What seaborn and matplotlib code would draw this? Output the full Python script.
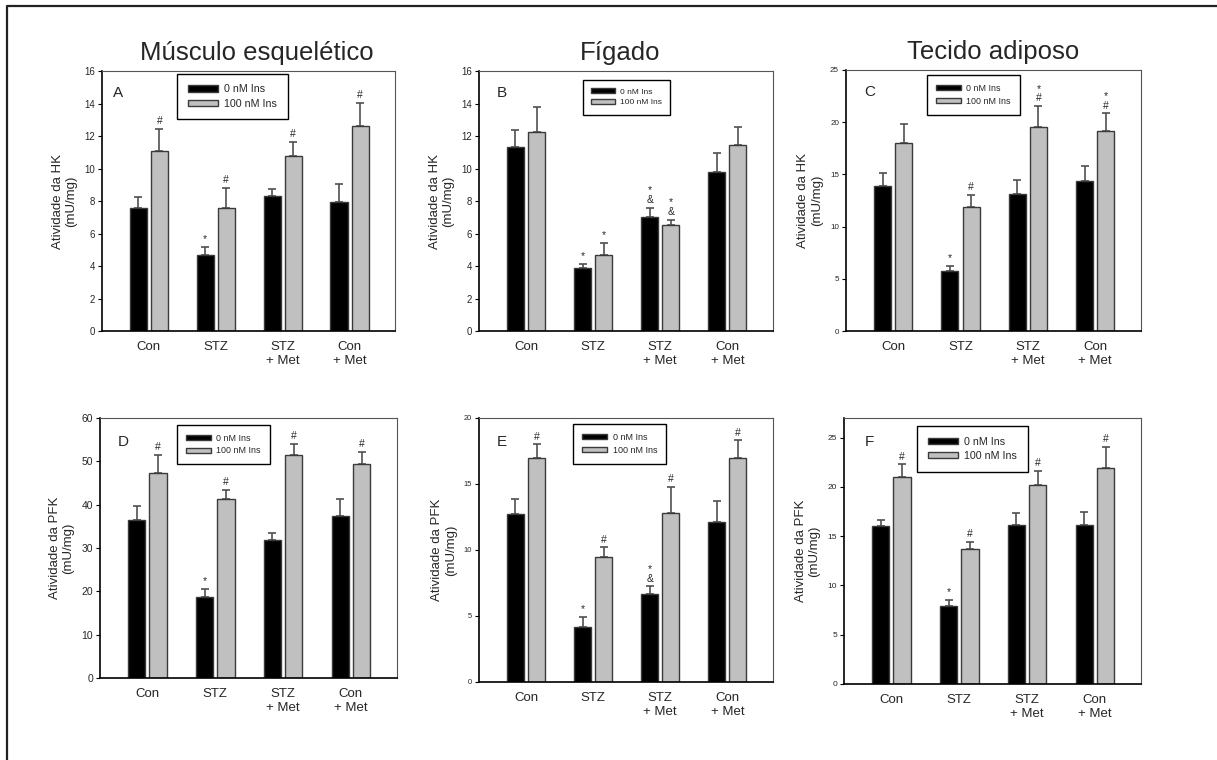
import matplotlib
matplotlib.use("Agg")
import matplotlib.pyplot as plt
from matplotlib.lines import Line2D
import pandas as pd
import seaborn as sns

sns.set_style("ticks")
plt.rcParams['font.family'] = ['Liberation Sans', 'DejaVu Sans']

groups = ['Con', 'STZ', 'STZ\n+ Met', 'Con\n+ Met']
ins_levels = ['0 nM Ins', '100 nM Ins']
titles = ['Músculo esquelético', 'Fígado', 'Tecido adiposo']

# HK activity (mean, SEM) - order Con, STZ, STZ+Met, Con+Met
hk_musc_0 = [7.6, 4.7, 8.3, 7.95]
hk_musc_0_sem = [0.65, 0.5, 0.45, 1.1]
hk_musc_100 = [11.05, 7.6, 10.8, 12.6]
hk_musc_100_sem = [1.4, 1.2, 0.85, 1.45]

hk_liver_0 = [11.3, 3.9, 7.0, 9.8]
hk_liver_0_sem = [1.1, 0.25, 0.6, 1.15]
hk_liver_100 = [12.25, 4.65, 6.55, 11.45]
hk_liver_100_sem = [1.55, 0.75, 0.3, 1.1]

hk_adip_0 = [13.9, 5.7, 13.1, 14.4]
hk_adip_0_sem = [1.2, 0.55, 1.4, 1.4]
hk_adip_100 = [18.0, 11.85, 19.55, 19.15]
hk_adip_100_sem = [1.8, 1.2, 2.0, 1.7]

# PFK activity
pfk_musc_0 = [36.4, 18.8, 31.8, 37.5]
pfk_musc_0_sem = [3.3, 1.8, 1.7, 3.8]
pfk_musc_100 = [47.2, 41.3, 51.5, 49.3]
pfk_musc_100_sem = [4.3, 2.1, 2.6, 2.8]

pfk_liver_0 = [12.7, 4.2, 6.7, 12.1]
pfk_liver_0_sem = [1.2, 0.7, 0.55, 1.65]
pfk_liver_100 = [17.0, 9.5, 12.8, 17.0]
pfk_liver_100_sem = [1.0, 0.7, 2.0, 1.3]

pfk_adip_0 = [16.0, 7.9, 16.1, 16.15]
pfk_adip_0_sem = [0.65, 0.6, 1.3, 1.3]
pfk_adip_100 = [21.05, 13.7, 20.2, 21.9]
pfk_adip_100_sem = [1.25, 0.75, 1.4, 2.2]

# significance marks above each bar
marks_a = [['', '#'], ['*', '#'], ['', '#'], ['', '#']]
marks_b = [['', ''], ['*', '*'], ['*\n&', '*\n&'], ['', '']]
marks_c = [['', ''], ['*', '#'], ['', '*\n#'], ['', '*\n#']]
marks_d = [['', '#'], ['*', '#'], ['', '#'], ['', '#']]
marks_e = [['', '#'], ['*', '#'], ['*\n&', '#'], ['', '#']]
marks_f = [['', '#'], ['*', '#'], ['', '#'], ['', '#']]

W, H = 1217, 760
fig = plt.figure(figsize=(W / 100, H / 100), dpi=100)


def px_rect(x0, y0, x1, y1):
    return [x0 / W, 1 - y1 / H, (x1 - x0) / W, (y1 - y0) / H]


panels = [
    dict(rect=(102, 71, 395, 331), m0=hk_musc_0, s0=hk_musc_0_sem, m1=hk_musc_100, s1=hk_musc_100_sem,
         marks=marks_a, letter='A', ylim=16, ytop=16, step=2, ylab='HK', tfs=6.9, lfs=7.7, leg=(0.256, 0.99),
         let=(0.055, 0.915), title=titles[0], tx=0.527),
    dict(rect=(479, 71, 773, 331), m0=hk_liver_0, s0=hk_liver_0_sem, m1=hk_liver_100, s1=hk_liver_100_sem,
         marks=marks_b, letter='B', ylim=16, ytop=16, step=2, ylab='HK', tfs=6.9, lfs=6.0, leg=(0.354, 0.965),
         let=(0.077, 0.915), title=titles[1], tx=0.48),
    dict(rect=(846, 70, 1141, 331), m0=hk_adip_0, s0=hk_adip_0_sem, m1=hk_adip_100, s1=hk_adip_100_sem,
         marks=marks_c, letter='C', ylim=25, ytop=25, step=5, ylab='HK', tfs=5.8, lfs=6.4, leg=(0.275, 0.98),
         let=(0.081, 0.915), title=titles[2], tx=0.5),
    dict(rect=(100, 418, 397, 678), m0=pfk_musc_0, s0=pfk_musc_0_sem, m1=pfk_musc_100, s1=pfk_musc_100_sem,
         marks=marks_d, letter='D', ylim=60, ytop=60, step=10, ylab='PFK', tfs=7.5, lfs=6.4, leg=(0.26, 0.973),
         let=(0.077, 0.909), title=None, tx=0.5),
    dict(rect=(479, 418, 773, 682), m0=pfk_liver_0, s0=pfk_liver_0_sem, m1=pfk_liver_100, s1=pfk_liver_100_sem,
         marks=marks_e, letter='E', ylim=20, ytop=20, step=5, ylab='PFK', tfs=5.4, lfs=6.5, leg=(0.32, 0.977),
         let=(0.077, 0.91), title=None, tx=0.5),
    dict(rect=(844, 418, 1141, 684), m0=pfk_adip_0, s0=pfk_adip_0_sem, m1=pfk_adip_100, s1=pfk_adip_100_sem,
         marks=marks_f, letter='F', ylim=27, ytop=25, step=5, ylab='PFK', tfs=6.0, lfs=7.7, leg=(0.246, 0.97),
         let=(0.087, 0.91), title=None, tx=0.5),
]

for p in panels:
    ax = fig.add_axes(px_rect(*p['rect']))
    df = pd.DataFrame({
        'grupo': groups * 2,
        'ins': [ins_levels[0]] * 4 + [ins_levels[1]] * 4,
        'valor': p['m0'] + p['m1'],
    })
    sems = [p['s0'], p['s1']]
    sns.barplot(data=df, x='grupo', y='valor', hue='ins', order=groups, hue_order=ins_levels,
                palette=['black', '#c0c0c0'], saturation=1, width=0.63, gap=0.19,
                edgecolor='#3a3a3a', linewidth=1, errorbar=None, ax=ax)
    bar_conts = list(ax.containers)
    for k, cont in enumerate(bar_conts):
        for j, bar in enumerate(cont.patches):
            xc = bar.get_x() + bar.get_width() / 2
            h = bar.get_height()
            ax.errorbar(xc, h, yerr=[[0], [sems[k][j]]], color='#505050', lw=1.2,
                        capsize=3.2, capthick=1.2, zorder=0.5)
            txt = p['marks'][j][k]
            if txt:
                ax.annotate(txt, (xc, h + sems[k][j]), xytext=(0, 2), textcoords='offset points',
                            ha='center', va='bottom', fontsize=7.5, linespacing=0.95)
    ax.set_xlim(-0.70, 3.68)
    ax.set_ylim(0, p['ylim'])
    ax.set_yticks(range(0, p['ytop'] + 1, p['step']))
    ax.tick_params(axis='y', labelsize=p['tfs'], length=3, width=0.8, pad=2, color='black')
    ax.tick_params(axis='x', labelsize=9.5, length=0, pad=7.5)
    ax.set_xlabel('')
    ax.set_ylabel('Atividade da ' + p['ylab'] + '\n(mU/mg)', fontsize=9.5, labelpad=5)
    for side in ['top', 'right']:
        ax.spines[side].set_visible(True)
        ax.spines[side].set_color('#555555')
        ax.spines[side].set_linewidth(0.8)
    for side in ['left', 'bottom']:
        ax.spines[side].set_color('black')
        ax.spines[side].set_linewidth(1.2)
    ax.text(p['let'][0], p['let'][1], p['letter'], transform=ax.transAxes, fontsize=11,
            ha='center', va='center')
    if p['title']:
        ax.set_title(p['title'], fontsize=18.5, pad=8, x=p['tx'])
    sns.move_legend(ax, loc='upper left', bbox_to_anchor=p['leg'], title=None, frameon=True,
                    fancybox=False, edgecolor='black', framealpha=1, fontsize=p['lfs'],
                    handlelength=2.8, handleheight=0.5, handletextpad=0.6, labelspacing=0.4,
                    borderpad=1.0, borderaxespad=0)
    ax.get_legend().get_frame().set_linewidth(1.0)

# outer frame (left and top edges)
fig.add_artist(Line2D([7 / W, 7 / W, 1], [0, 1 - 6 / H, 1 - 6 / H], transform=fig.transFigure,
                      color='#222222', lw=1.6))

fig.savefig('out.png', dpi=100)
